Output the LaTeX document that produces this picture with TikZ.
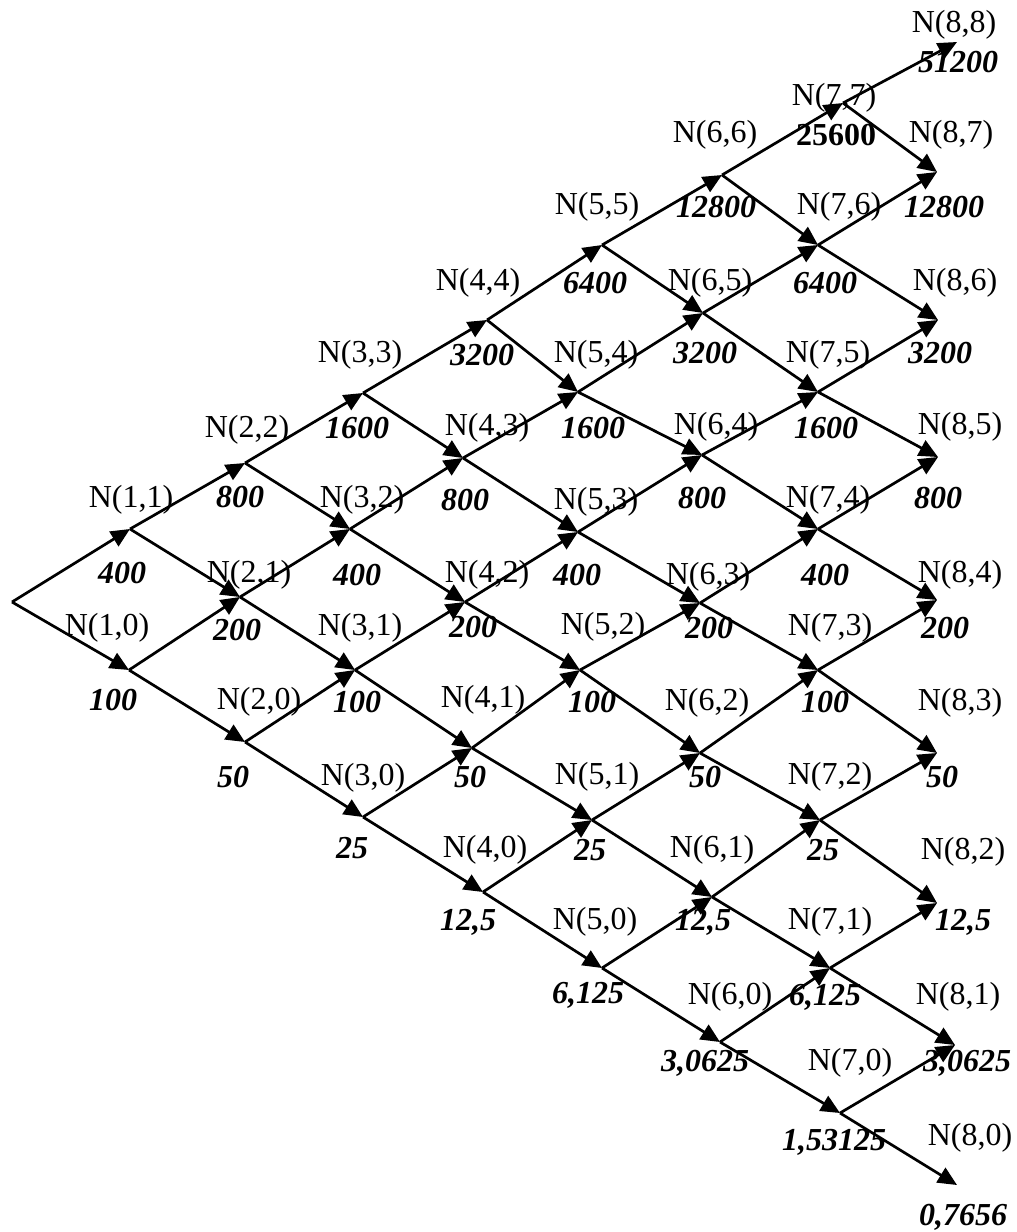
\documentclass[tikz,border=0pt]{standalone}
\usepackage{fontspec}
\setmainfont{Liberation Serif}
\usetikzlibrary{arrows.meta}
\begin{document}
\begin{tikzpicture}[x=1pt,y=-1pt,
  nm/.style={inner sep=0pt,font=\fontsize{32}{36}\selectfont},
  val/.style={inner sep=0pt,font=\fontsize{32}{36}\selectfont\bfseries\itshape},
  valup/.style={inner sep=0pt,font=\fontsize{32}{36}\selectfont\bfseries},
  edge/.style={line width=2.7pt,-{Triangle[length=19pt,width=17pt]}}]
\useasboundingbox[fill=white] (0,0) rectangle (1017,1232);
% lattice points
\coordinate (p00) at (12,602);
\coordinate (p10) at (129,670);
\coordinate (p11) at (130,529);
\coordinate (p20) at (245,742);
\coordinate (p21) at (240,597);
\coordinate (p22) at (245,463);
\coordinate (p30) at (363,817);
\coordinate (p31) at (355,670);
\coordinate (p32) at (350,529);
\coordinate (p33) at (363,393);
\coordinate (p40) at (483,892);
\coordinate (p41) at (472,748);
\coordinate (p42) at (465,602);
\coordinate (p43) at (463,458);
\coordinate (p44) at (487,320);
\coordinate (p50) at (602,968);
\coordinate (p51) at (592,820);
\coordinate (p52) at (580,670);
\coordinate (p53) at (578,532);
\coordinate (p54) at (578,392);
\coordinate (p55) at (602,245);
\coordinate (p60) at (720,1042);
\coordinate (p61) at (712,897);
\coordinate (p62) at (700,753);
\coordinate (p63) at (700,603);
\coordinate (p64) at (702,455);
\coordinate (p65) at (703,313);
\coordinate (p66) at (722,175);
\coordinate (p70) at (840,1113);
\coordinate (p71) at (830,968);
\coordinate (p72) at (820,820);
\coordinate (p73) at (818,670);
\coordinate (p74) at (818,529);
\coordinate (p75) at (818,392);
\coordinate (p76) at (818,245);
\coordinate (p77) at (843,103);
\coordinate (p80) at (957,1185);
\coordinate (p81) at (955,1045);
\coordinate (p82) at (937,903);
\coordinate (p83) at (937,753);
\coordinate (p84) at (937,600);
\coordinate (p85) at (938,457);
\coordinate (p86) at (938,320);
\coordinate (p87) at (937,172);
\coordinate (p88) at (957,42);
% edges
\foreach \i in {0,...,7}{
  \foreach \j in {0,...,\i}{
    \pgfmathtruncatemacro\ni{\i+1}
    \pgfmathtruncatemacro\nj{\j+1}
    \draw[edge] (p\i\j) -- (p\ni\j);
    \draw[edge] (p\i\j) -- (p\ni\nj);
  }
}
% names
\node[nm] (n88) at (954,25) {N(8,8)};
\node[nm] (n77) at (834,98) {N(7,7)};
\node[nm] (n66) at (715,135) {N(6,6)};
\node[nm] (n87) at (951,135) {N(8,7)};
\node[nm] (n55) at (597,207) {N(5,5)};
\node[nm] (n76) at (839,207) {N(7,6)};
\node[nm] (n44) at (478,283) {N(4,4)};
\node[nm] (n65) at (710,283) {N(6,5)};
\node[nm] (n86) at (955,283) {N(8,6)};
\node[nm] (n33) at (360,355) {N(3,3)};
\node[nm] (n54) at (596,355) {N(5,4)};
\node[nm] (n75) at (828,355) {N(7,5)};
\node[nm] (n22) at (247,430) {N(2,2)};
\node[nm] (n43) at (487,428) {N(4,3)};
\node[nm] (n64) at (716,427) {N(6,4)};
\node[nm] (n85) at (960,427) {N(8,5)};
\node[nm] (n11) at (131,500) {N(1,1)};
\node[nm] (n32) at (362,500) {N(3,2)};
\node[nm] (n53) at (596,502) {N(5,3)};
\node[nm] (n74) at (828,500) {N(7,4)};
\node[nm] (n21) at (249,575) {N(2,1)};
\node[nm] (n42) at (487,575) {N(4,2)};
\node[nm] (n63) at (708,577) {N(6,3)};
\node[nm] (n84) at (960,575) {N(8,4)};
\node[nm] (n10) at (107,628) {N(1,0)};
\node[nm] (n31) at (360,628) {N(3,1)};
\node[nm] (n52) at (603,627) {N(5,2)};
\node[nm] (n73) at (830,628) {N(7,3)};
\node[nm] (n20) at (259,702) {N(2,0)};
\node[nm] (n41) at (483,700) {N(4,1)};
\node[nm] (n62) at (707,703) {N(6,2)};
\node[nm] (n83) at (960,703) {N(8,3)};
\node[nm] (n30) at (363,778) {N(3,0)};
\node[nm] (n51) at (597,777) {N(5,1)};
\node[nm] (n72) at (830,777) {N(7,2)};
\node[nm] (n40) at (485,850) {N(4,0)};
\node[nm] (n61) at (712,850) {N(6,1)};
\node[nm] (n82) at (963,852) {N(8,2)};
\node[nm] (n50) at (595,922) {N(5,0)};
\node[nm] (n71) at (830,922) {N(7,1)};
\node[nm] (n60) at (730,997) {N(6,0)};
\node[nm] (n81) at (958,997) {N(8,1)};
\node[nm] (n70) at (850,1063) {N(7,0)};
\node[nm] (n80) at (970,1138) {N(8,0)};
% values
\node[val] (v88) at (958,62) {51200};
\node[valup] (v77) at (836,135) {25600};
\node[val] (v66) at (716,207) {12800};
\node[val] (v87) at (944,207) {12800};
\node[val] (v55) at (595,283) {6400};
\node[val] (v76) at (825,283) {6400};
\node[val] (v44) at (482,355) {3200};
\node[val] (v65) at (705,353) {3200};
\node[val] (v86) at (940,353) {3200};
\node[val] (v33) at (357,428) {1600};
\node[val] (v54) at (593,428) {1600};
\node[val] (v75) at (826,428) {1600};
\node[val] (v22) at (240,497) {800};
\node[val] (v43) at (465,500) {800};
\node[val] (v64) at (702,498) {800};
\node[val] (v85) at (938,498) {800};
\node[val] (v11) at (122,573) {400};
\node[val] (v32) at (357,575) {400};
\node[val] (v53) at (577,575) {400};
\node[val] (v74) at (825,575) {400};
\node[val] (v21) at (237,630) {200};
\node[val] (v42) at (473,627) {200};
\node[val] (v63) at (709,628) {200};
\node[val] (v84) at (945,628) {200};
\node[val] (v10) at (113,700) {100};
\node[val] (v31) at (357,702) {100};
\node[val] (v52) at (592,702) {100};
\node[val] (v73) at (825,702) {100};
\node[val] (v20) at (233,777) {50};
\node[val] (v41) at (470,777) {50};
\node[val] (v62) at (705,777) {50};
\node[val] (v83) at (942,777) {50};
\node[val] (v30) at (352,848) {25};
\node[val] (v51) at (590,850) {25};
\node[val] (v72) at (823,850) {25};
\node[val] (v40) at (468,922) {12,5};
\node[val] (v61) at (703,922) {12,5};
\node[val] (v82) at (963,922) {12,5};
\node[val] (v50) at (588,995) {6,125};
\node[val] (v71) at (825,997) {6,125};
\node[val] (v60) at (705,1063) {3,0625};
\node[val] (v81) at (967,1063) {3,0625};
\node[val] (v70) at (834,1142) {1,53125};
\node[val] (v80) at (963,1217) {0,7656};
\end{tikzpicture}
\end{document}
